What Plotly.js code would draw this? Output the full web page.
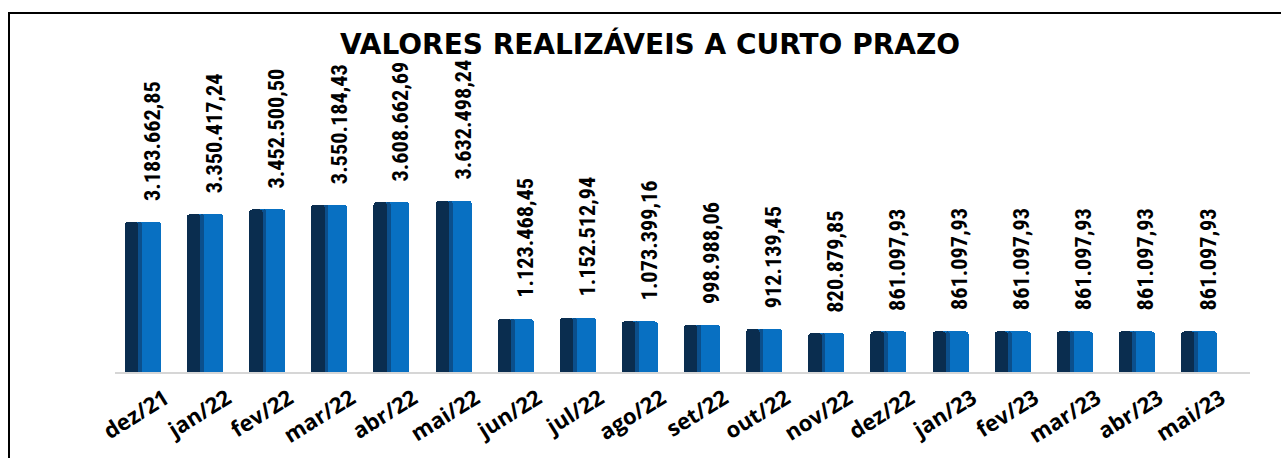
<!DOCTYPE html>
<html>
<head>
<meta charset="utf-8">
<script src="https://cdn.plot.ly/plotly-3.0.1.min.js"></script>
<style>
  html, body { margin: 0; padding: 0; background: #ffffff; overflow: hidden; }
  #wrap { position: relative; width: 1281px; height: 458px; }
  #chart { position: absolute; left: 0; top: 0; width: 1281px; height: 458px; }
  #frame { position: absolute; left: 8px; top: 12px; right: -10px; bottom: -10px;
           border-top: 2px solid #000; border-left: 2px solid #000; pointer-events: none; }
</style>
</head>
<body>
<div id="wrap">
  <div id="chart"></div>
  <div id="frame"></div>
</div>
<script>
const chartTitle = 'VALORES REALIZÁVEIS A CURTO PRAZO';

const categories = ['dez/21', 'jan/22', 'fev/22', 'mar/22', 'abr/22', 'mai/22',
                    'jun/22', 'jul/22', 'ago/22', 'set/22', 'out/22', 'nov/22',
                    'dez/22', 'jan/23', 'fev/23', 'mar/23', 'abr/23', 'mai/23'];

const values = [3183662.85, 3350417.24, 3452500.50, 3550184.43, 3608662.69, 3632498.24,
                1123468.45, 1152512.94, 1073399.16, 998988.06, 912139.45, 820879.85,
                861097.93, 861097.93, 861097.93, 861097.93, 861097.93, 861097.93];

function fmtBR(v) {
  const parts = v.toFixed(2).split('.');
  const intPart = parts[0].replace(/\B(?=(\d{3})+(?!\d))/g, '.');
  return intPart + ',' + parts[1];
}

const labelFamily = '"Roboto Condensed", "Liberation Sans Narrow", "Arial Narrow", "Nimbus Sans Narrow", "DejaVu Sans Condensed", sans-serif';

// pick a label size so that a long value label is about as long as in the reference
function fitLabelSize(sample, targetPx) {
  const ctx = document.createElement('canvas').getContext('2d');
  ctx.font = 'bold 100px ' + labelFamily;
  const w = ctx.measureText(sample).width;
  return Math.max(12, Math.min(26, 100 * targetPx / w));
}
const labelSize = fitLabelSize(fmtBR(values[0]), 120);

const common = {
  type: 'bar',
  x: categories,
  y: values,
  hoverinfo: 'skip',
  showlegend: false
};

// cylinder-like bars: blue body, gradient strip, dark left shading
const traceBlue = Object.assign({}, common, {
  width: 0.58, offset: -0.29,
  marker: { color: '#0870c2', line: { width: 0 }, cornerradius: 3 }
});
const traceMid = Object.assign({}, common, {
  width: 0.07, offset: -0.085,
  marker: { color: '#0b4f8c', line: { width: 0 }, cornerradius: 2 }
});
const traceDark = Object.assign({}, common, {
  width: 0.215, offset: -0.29,
  marker: { color: '#0a2d4f', line: { width: 0 }, cornerradius: 3 }
});

const annotations = values.map((v, i) => ({
  x: categories[i],
  y: v,
  xref: 'x', yref: 'y',
  text: fmtBR(v),
  textangle: -90,
  xanchor: 'center',
  yanchor: 'bottom',
  xshift: 9,
  yshift: 19,
  showarrow: false,
  font: { family: labelFamily, size: labelSize, color: '#000000', weight: 'bold' }
}));

const layout = {
  width: 1281,
  height: 458,
  paper_bgcolor: 'rgba(0,0,0,0)',
  plot_bgcolor: 'rgba(0,0,0,0)',
  margin: { l: 115, r: 31, t: 40, b: 86 },
  barmode: 'overlay',
  bargap: 0,
  title: {
    text: chartTitle,
    font: { family: '"DejaVu Sans", sans-serif', size: 28, color: '#000000', weight: 'bold' },
    x: 650 / 1281, xanchor: 'center', xref: 'container',
    y: 0.904, yanchor: 'middle', yref: 'container'
  },
  xaxis: {
    type: 'category',
    range: [-0.45, 17.82],
    showline: true,
    linecolor: '#d6d6d6',
    linewidth: 2,
    ticks: '',
    showgrid: false,
    tickangle: -32,
    ticklabelshift: 22,
    ticklabelstandoff: 3,
    tickfont: { family: '"Open Sans", sans-serif', size: 22, color: '#000000', weight: 'bold' },
    fixedrange: true
  },
  yaxis: {
    range: [0, 7050000],
    visible: false,
    showgrid: false,
    zeroline: false,
    fixedrange: true
  },
  annotations: annotations
};

Plotly.newPlot('chart', [traceBlue, traceMid, traceDark], layout, { displayModeBar: false, staticPlot: true });
</script>
</body>
</html>
